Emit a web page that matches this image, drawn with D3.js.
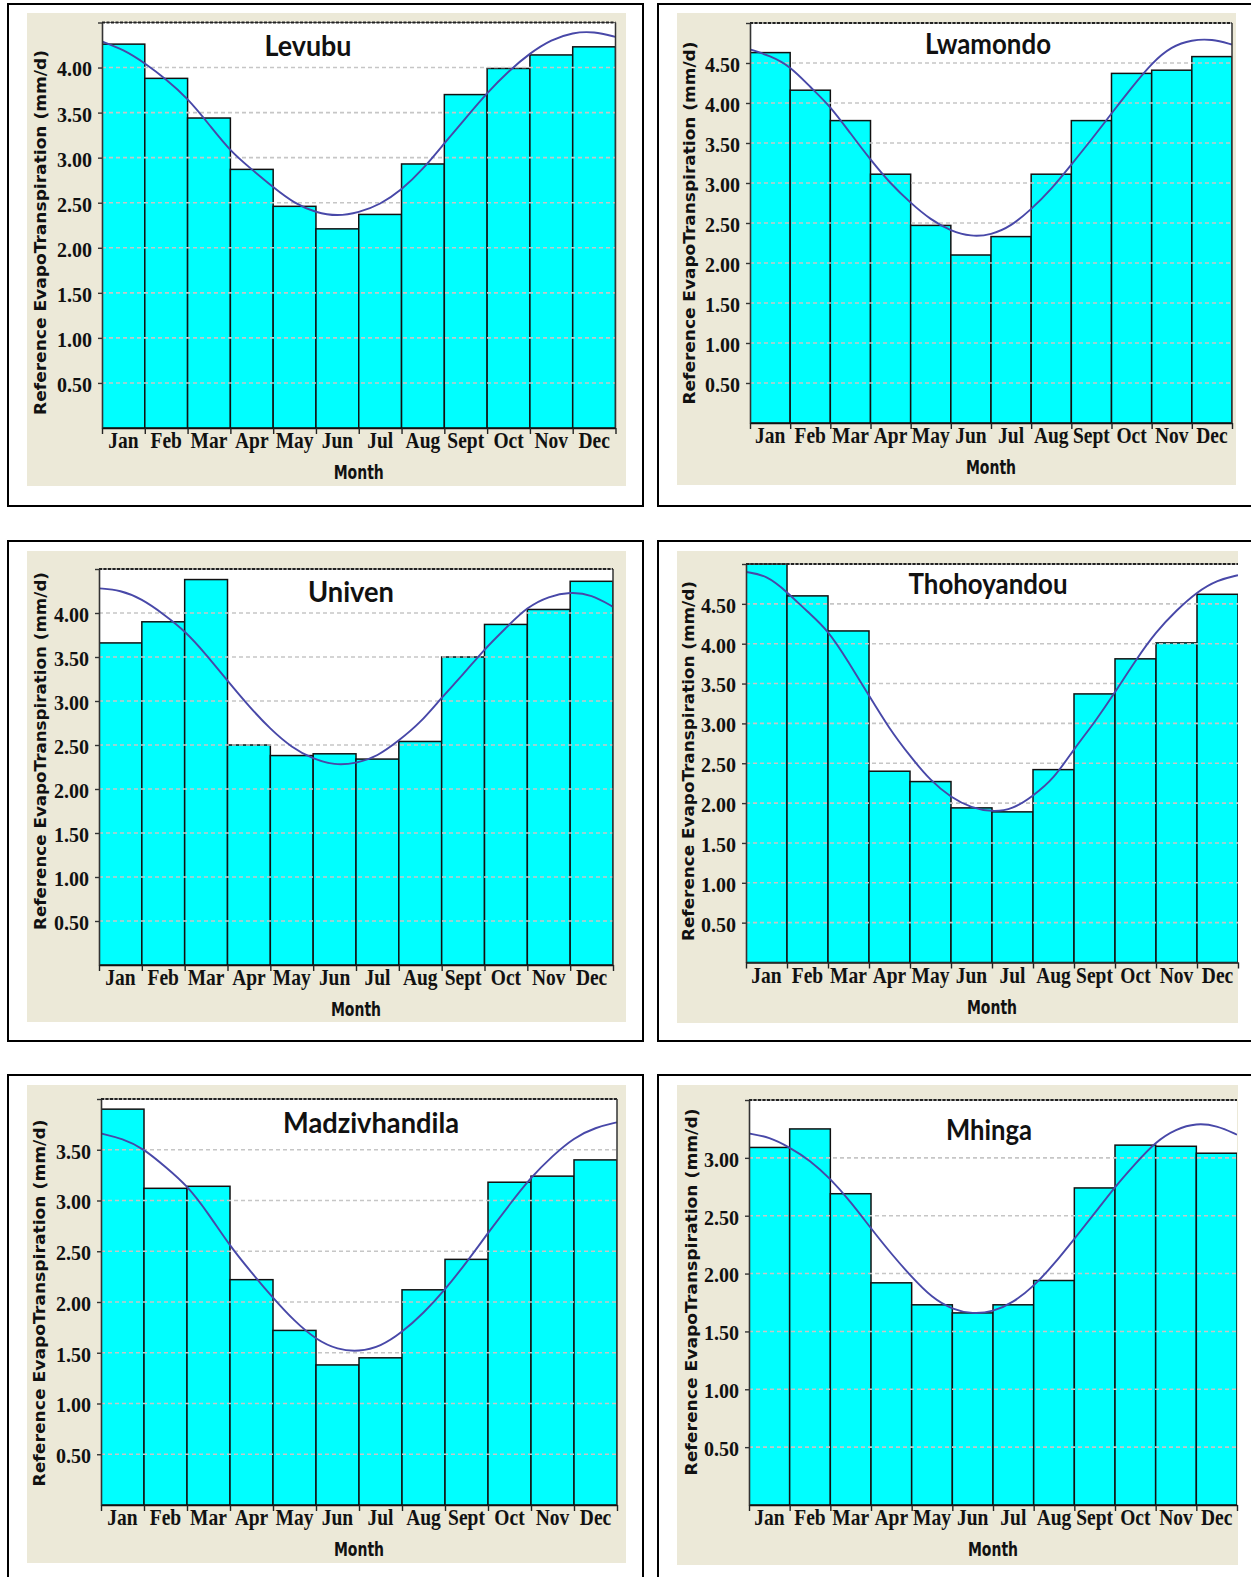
<!DOCTYPE html>
<html><head><meta charset="utf-8">
<script src="https://cdn.jsdelivr.net/npm/d3@7"></script>
<style>html,body{margin:0;padding:0;background:#fff;} svg{display:block;}</style>
</head><body>
<svg id="chart" width="1251" height="1577"></svg>
<script>
// ---------------- DATA ----------------
const months = ["Jan","Feb","Mar","Apr","May","Jun","Jul","Aug","Sept","Oct","Nov","Dec"];
const stations = ["Levubu","Lwamondo","Univen","Thohoyandou","Madzivhandila","Mhinga"];
const yAxisMax = [4.5, 5, 4.5, 5, 4, 3.5];
const yTitle = "Reference EvapoTranspiration (mm/d)";
const xTitle = "Month";

// monthly reference evapotranspiration (bars), mm/d
const levubuET        = [4.26, 3.88, 3.44, 2.87, 2.46, 2.21, 2.37, 2.93, 3.70, 3.99, 4.14, 4.23];
const lwamondoET      = [4.63, 4.16, 3.78, 3.11, 2.47, 2.10, 2.33, 3.11, 3.78, 4.37, 4.41, 4.58];
const univenET        = [3.66, 3.90, 4.38, 2.50, 2.38, 2.40, 2.34, 2.54, 3.50, 3.87, 4.04, 4.36];
const thohoyandouET   = [5.00, 4.60, 4.16, 2.40, 2.27, 1.94, 1.89, 2.42, 3.37, 3.81, 4.01, 4.62];
const madzivhandilaET = [3.90, 3.12, 3.14, 2.22, 1.72, 1.38, 1.45, 2.12, 2.42, 3.18, 3.24, 3.40];
const mhingaET        = [3.09, 3.25, 2.69, 1.92, 1.73, 1.66, 1.73, 1.94, 2.74, 3.11, 3.10, 3.04];

// fitted curve, read at half-month positions (0 = start of Jan, 12 = end of Dec)
const fitPositions = [0,0.5,1,1.5,2,2.5,3,3.5,4,4.5,5,5.5,6,6.5,7,7.5,8,8.5,9,9.5,10,10.5,11,11.5,12];
const levubuFit        = [4.29,4.20,4.05,3.87,3.66,3.37,3.07,2.87,2.67,2.49,2.39,2.35,2.39,2.48,2.64,2.87,3.16,3.44,3.72,3.96,4.16,4.31,4.39,4.40,4.34];
const lwamondoFit      = [4.67,4.59,4.46,4.20,3.96,3.62,3.29,2.99,2.75,2.54,2.40,2.33,2.35,2.46,2.67,2.92,3.23,3.54,3.87,4.19,4.50,4.71,4.79,4.80,4.73];
const univenFit        = [4.28,4.26,4.16,3.99,3.80,3.53,3.23,2.94,2.68,2.47,2.34,2.27,2.29,2.37,2.55,2.75,3.04,3.30,3.59,3.83,4.07,4.19,4.24,4.21,4.07];
const thohoyandouFit   = [4.90,4.86,4.65,4.40,4.17,3.77,3.35,2.93,2.59,2.28,2.07,1.94,1.89,1.92,2.09,2.30,2.68,3.01,3.39,3.79,4.15,4.42,4.65,4.80,4.86];
const madzivhandilaFit = [3.66,3.61,3.51,3.33,3.15,2.87,2.55,2.29,2.04,1.81,1.63,1.53,1.51,1.56,1.70,1.89,2.12,2.39,2.68,2.96,3.23,3.44,3.62,3.72,3.77];
const mhingaFit        = [3.21,3.18,3.09,2.98,2.82,2.62,2.39,2.17,1.97,1.79,1.69,1.65,1.67,1.75,1.89,2.08,2.30,2.52,2.75,2.95,3.14,3.25,3.30,3.28,3.20];

const barSeries = [levubuET, lwamondoET, univenET, thohoyandouET, madzivhandilaET, mhingaET];
const fitSeries = [levubuFit, lwamondoFit, univenFit, thohoyandouFit, madzivhandilaFit, mhingaFit];

// ---------------- LAYOUT ----------------
const layout = [
  {frame:[8,4,643,506],     beige:[27,13,626,486],     plot:[102,22.5,615.5,428], title:{x:308,y:56,w:87},    ytitle:{x:46,cy:232.5,len:365}, rb:true},
  {frame:[658,4,1262,506],  beige:[677,13,1236,485],   plot:[750,23,1232,423],    title:{x:988,y:53.5,w:126}, ytitle:{x:694.5,cy:223,len:363},    rb:true},
  {frame:[8,541,643,1041],  beige:[27,551,626,1022],   plot:[99,569,613,965],     title:{x:351,y:601.5,w:86}, ytitle:{x:45.5,cy:751,len:358},     rb:true},
  {frame:[658,541,1262,1041],beige:[677,551,1238,1023],plot:[746,564,1238,962.5], title:{x:988,y:594,w:159},  ytitle:{x:693.5,cy:761,len:360},    rb:false},
  {frame:[8,1075,643,1600], beige:[27,1085,626,1563],  plot:[101,1099,617,1505],  title:{x:371,y:1132.5,w:176},ytitle:{x:45,cy:1303,len:367}, rb:true},
  {frame:[658,1075,1262,1600],beige:[677,1085,1238,1565],plot:[749,1100,1237,1505],title:{x:989,y:1140,w:86}, ytitle:{x:696.5,cy:1292,len:367},   rb:false}
];

const svg = d3.select("#chart");
const fmt = d3.format(".2f");

stations.forEach((name, i) => {
  const L = layout[i];
  const [px0, py0, px1, py1] = L.plot;
  const g = svg.append("g");

  // outer frame
  g.append("rect").attr("x", L.frame[0]).attr("y", L.frame[1])
    .attr("width", L.frame[2]-L.frame[0]).attr("height", L.frame[3]-L.frame[1])
    .attr("fill", "#fff").attr("stroke", "#000").attr("stroke-width", 2);
  // beige chart background
  g.append("rect").attr("x", L.beige[0]).attr("y", L.beige[1])
    .attr("width", L.beige[2]-L.beige[0]).attr("height", L.beige[3]-L.beige[1])
    .attr("fill", "#ECE9D8");
  // white plot area
  g.append("rect").attr("x", px0).attr("y", py0).attr("width", px1-px0).attr("height", py1-py0)
    .attr("fill", "#fff");

  const xBand = d3.scaleBand().domain(months).range([px0, px1]).padding(0);
  const xLin = d3.scaleLinear().domain([0, 12]).range([px0, px1]);
  const y = d3.scaleLinear().domain([0, yAxisMax[i]]).range([py1, py0]);
  const ticks = d3.range(0.5, yAxisMax[i] - 0.001, 0.5);

  const clipId = "clip" + i;
  svg.append("clipPath").attr("id", clipId).append("rect")
    .attr("x", px0).attr("y", py0 - 1).attr("width", px1 - px0).attr("height", py1 - py0 + 1);
  const pg = g.append("g").attr("clip-path", `url(#${clipId})`);

  // bars
  pg.selectAll("rect.bar").data(barSeries[i]).join("rect").attr("class", "bar")
    .attr("x", (d, j) => xBand(months[j]))
    .attr("y", d => y(Math.min(d, yAxisMax[i])))
    .attr("width", xBand.bandwidth())
    .attr("height", d => py1 - y(Math.min(d, yAxisMax[i])))
    .attr("fill", "#00FFFF").attr("stroke", "#111").attr("stroke-width", 1.5);

  // gridlines (dashed, over bars)
  pg.selectAll("line.grid").data(ticks).join("line").attr("class", "grid")
    .attr("x1", px0).attr("x2", px1).attr("y1", d => y(d)).attr("y2", d => y(d))
    .attr("stroke", "#c6c6c6").attr("stroke-width", 1.6).attr("stroke-dasharray", "4,3");

  // top line (dark dashed)
  g.append("line").attr("x1", px0).attr("x2", px1).attr("y1", y(yAxisMax[i])).attr("y2", y(yAxisMax[i]))
    .attr("stroke", "#666").attr("stroke-width", 1);
  g.append("line").attr("x1", px0).attr("x2", px1).attr("y1", y(yAxisMax[i])).attr("y2", y(yAxisMax[i]))
    .attr("stroke", "#222").attr("stroke-width", 2).attr("stroke-dasharray", "3,1.5");

  // fitted curve
  const line = d3.line().x((d, j) => xLin(fitPositions[j])).y(d => y(d)).curve(d3.curveBasis);
  pg.append("path").datum(fitSeries[i]).attr("d", line)
    .attr("fill", "none").attr("stroke", "#4848a8").attr("stroke-width", 1.9);

  // right border
  if (L.rb) {
    g.append("line").attr("x1", px1).attr("x2", px1).attr("y1", py0).attr("y2", py1)
      .attr("stroke", "#333").attr("stroke-width", 1.5);
  }

  // y axis
  const yAxis = d3.axisLeft(y).tickValues(ticks.concat([yAxisMax[i]])).tickSize(4).tickPadding(6)
    .tickSizeOuter(0).tickFormat(d => d >= yAxisMax[i] - 0.001 ? "" : fmt(d));
  const ya = g.append("g").attr("transform", `translate(${px0},0)`).call(yAxis);
  ya.select(".domain").attr("stroke", "#333").attr("stroke-width", 1.6);
  ya.selectAll(".tick line").attr("stroke", "#333").attr("stroke-width", 1.4);
  ya.selectAll(".tick text").attr("dy", "0.42em")
    .attr("font-family", "'Liberation Serif','Times New Roman',serif").attr("font-weight", "bold")
    .attr("font-size", 20).attr("fill", "#111");

  // x axis (ticks at month boundaries)
  const xAxis = d3.axisBottom(xLin).tickValues(d3.range(0, 13)).tickSize(6).tickFormat("").tickSizeOuter(0);
  const xa = g.append("g").attr("transform", `translate(0,${py1})`).call(xAxis);
  xa.select(".domain").attr("stroke", "#111").attr("stroke-width", 1.6);
  xa.selectAll(".tick line").attr("stroke", "#222").attr("stroke-width", 1.4);

  // month labels
  g.selectAll("text.mlab").data(months).join("text").attr("class", "mlab")
    .attr("transform", d => `translate(${xBand(d) + xBand.bandwidth()/2},${py1 + 20}) scale(1,1.2)`)
    .attr("text-anchor", "middle")
    .attr("font-family", "'Liberation Serif','Times New Roman',serif").attr("font-weight", "bold")
    .attr("font-size", 19.5).attr("fill", "#111").text(d => d);

  // x title
  g.append("text")
    .attr("transform", `translate(${(px0 + px1)/2},${py1 + 51}) scale(1,1.35)`)
    .attr("text-anchor", "middle")
    .attr("font-family", "'DejaVu Sans',Verdana,sans-serif").attr("font-weight", "bold")
    .attr("font-size", 14).attr("fill", "#111").text(xTitle);

  // y title
  g.append("text")
    .attr("transform", `translate(${L.ytitle.x},${L.ytitle.cy}) rotate(-90)`)
    .attr("text-anchor", "middle")
    .attr("font-family", "'DejaVu Sans',Verdana,sans-serif").attr("font-weight", "bold")
    .attr("font-size", 16).attr("fill", "#111")
    .attr("textLength", L.ytitle.len).attr("lengthAdjust", "spacingAndGlyphs")
    .text(yTitle);

  // station title
  g.append("text")
    .attr("x", L.title.x).attr("y", L.title.y)
    .attr("text-anchor", "middle")
    .attr("font-family", "Lato,'Open Sans',sans-serif").attr("font-weight", "bold")
    .attr("font-size", 28).attr("fill", "#111")
    .attr("textLength", L.title.w).attr("lengthAdjust", "spacingAndGlyphs")
    .text(name);
});
</script>
</body></html>
